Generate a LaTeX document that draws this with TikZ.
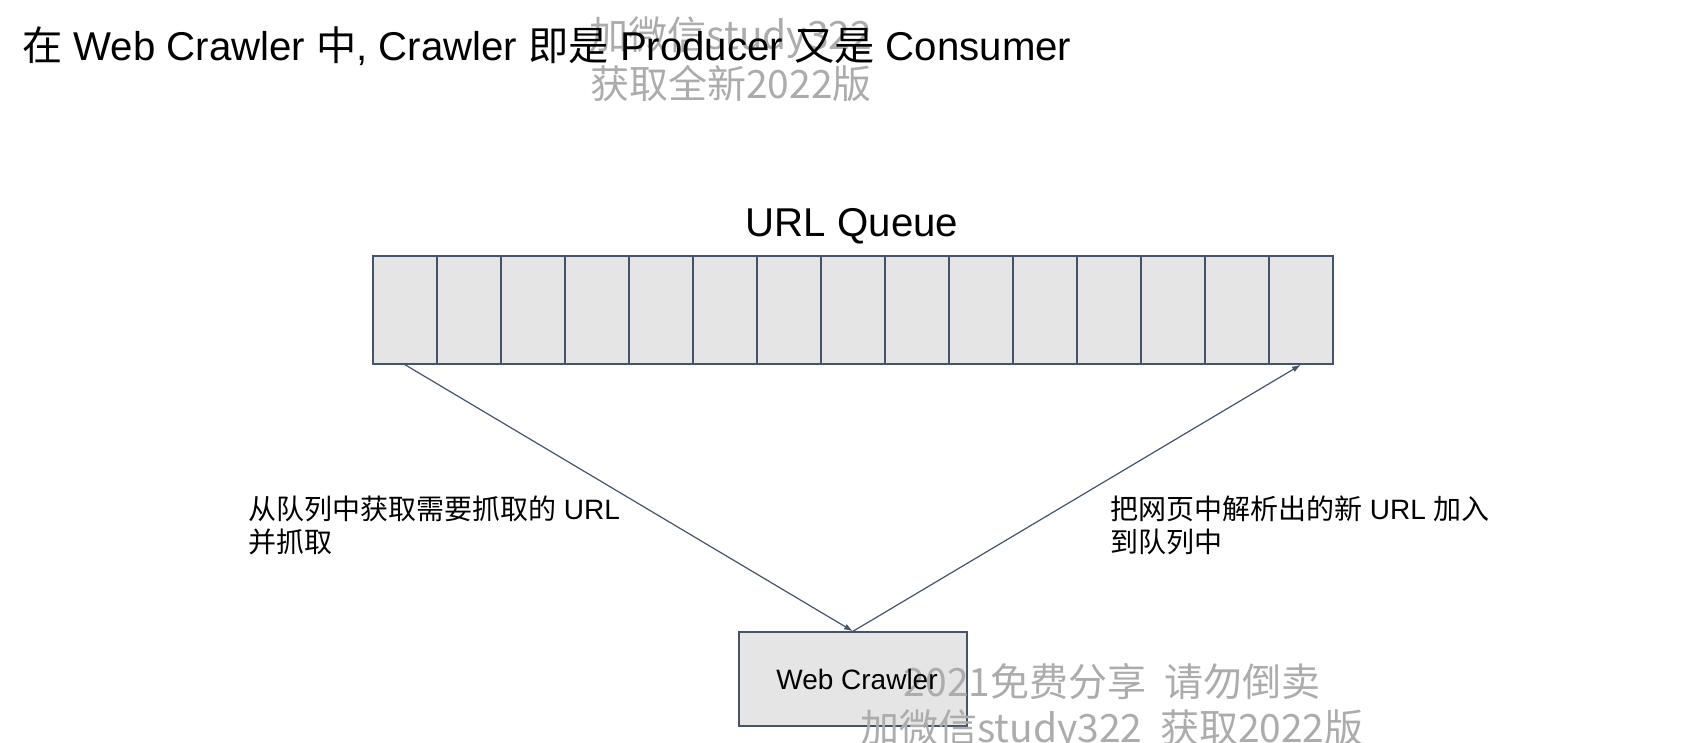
\documentclass[tikz,border=0pt]{standalone}
\usepackage{fontspec}
\setmainfont{Liberation Sans}
\newfontfamily\cjk{Noto Sans CJK SC}
\usetikzlibrary{arrows.meta}
\definecolor{slate}{RGB}{68,84,106}
\definecolor{cellfill}{RGB}{229,229,229}
\definecolor{wmgray}{RGB}{172,172,172}
\tikzset{
  qcell/.style={draw=slate, fill=cellfill, line width=1.4pt, minimum width=64pt, minimum height=108pt, inner sep=0pt},
  crawlerbox/.style={draw=slate, fill=cellfill, line width=1.4pt, minimum width=228pt, minimum height=94pt, inner sep=0pt},
  conn/.style={draw=slate, line width=1.2pt, -{Latex[length=9pt,width=6pt]}},
  wm/.style={text=wmgray, inner sep=0pt, font=\cjk\fontsize{39}{47}\selectfont},
  big/.style={inner sep=0pt, font=\fontsize{40.2}{48}\selectfont},
  lbl/.style={inner sep=0pt, align=left, font=\fontsize{28}{33}\selectfont},
}
\begin{document}
\begin{tikzpicture}[x=1pt, y=-1pt]
\useasboundingbox (0,0) rectangle (1706,742);
% queue cells
\foreach \i in {1,...,15} {
  \node[qcell] (c\i) at ({373+64*(\i-0.5)},310) {};
}
% crawler box
\node[crawlerbox] (crawler) at (853,679) {};
% connectors
\draw[conn] (c1.south) -- (crawler.north);
\draw[conn] (crawler.north) -- (c15.south);
% watermarks
\node[wm] (wm1) at (731,38) {加微信study322};
\node[wm] (wm2) at (731,84) {获取全新2022版};
\node[wm] (wm3) at (1112,682) {2021免费分享\ \ 请勿倒卖};
\node[wm] (wm4) at (1112,731) {加微信study322\ \ 获取2022版};
% texts
\node[big, anchor=base west] (title) at (22,60) {{\cjk 在} Web Crawler {\cjk 中}, Crawler {\cjk 即是} Producer {\cjk 又是} Consumer};
\node[big] (qlabel) at (852,226) {URL Queue};
\node[lbl] (crawlertext) at ([xshift=4pt]crawler.center) {Web Crawler};
\node[lbl, anchor=north west] (leftlbl) at (248,496) {{\cjk 从队列中获取需要抓取的} URL\\{\cjk 并抓取}};
\node[lbl, anchor=north west] (rightlbl) at (1110,496) {{\cjk 把网页中解析出的新} URL {\cjk 加入}\\{\cjk 到队列中}};
\end{tikzpicture}
\end{document}
